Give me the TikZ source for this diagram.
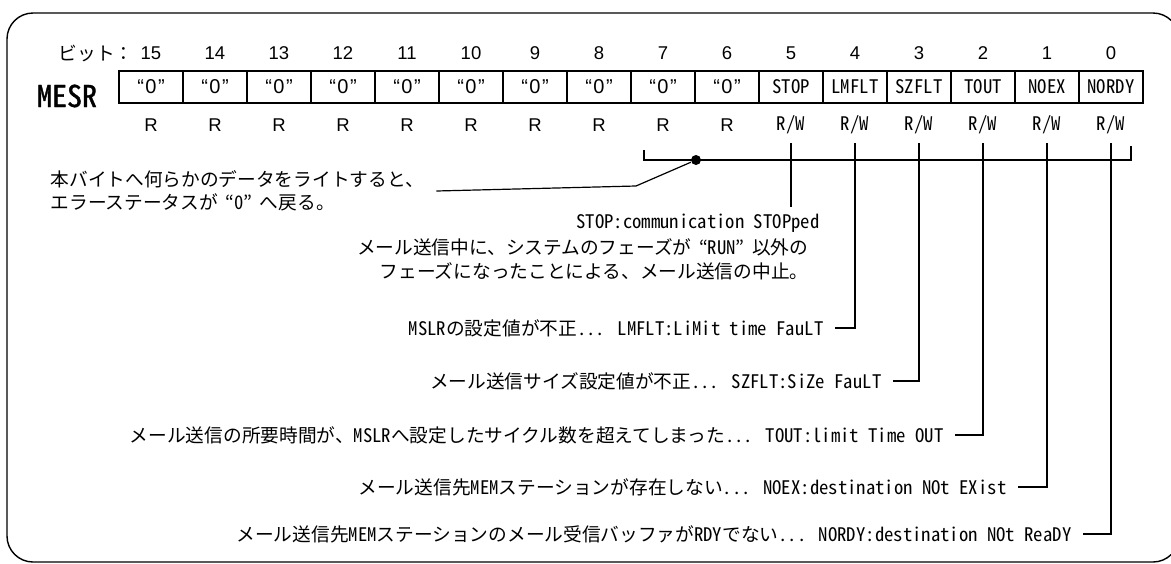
\documentclass[tikz,border=0pt]{standalone}
\usepackage{fontspec}
\setmainfont{Noto Sans CJK JP}
\newfontfamily\hw{Noto Sans CJK JP}[RawFeature=+hwid]
\newfontfamily\hwb{Noto Sans CJK JP}[RawFeature=+hwid, FakeBold=1.2]
\newfontfamily\arl{Liberation Sans}
\newcommand\hwt[1]{{\hw #1}}
\newcommand\jlq{\hspace{0.4em}“}
\newcommand\jrq{”\hspace{0.4em}}
\begin{document}
\begin{tikzpicture}[x=1pt,y=-1pt,line width=1.2pt,
  jp/.style={font=\fontsize{18.7}{23}\selectfont, inner sep=0pt},
  num/.style={font=\arl\fontsize{18.5}{20}\selectfont, inner sep=0pt},
  cell/.style={draw, line width=1.2pt, minimum width=64pt, minimum height=32pt, inner sep=0pt, font=\hw\fontsize{18.7}{20}\selectfont},
  zcell/.style={cell, font=\arl\fontsize{20}{20}\selectfont},
  lab/.style={jp, anchor=east, inner xsep=11pt},
  lead/.style={line width=1.2pt},
  frame/.style={line width=1.4pt, rounded corners=26pt}]
\useasboundingbox (0,0) rectangle (1171,563);
\draw[frame] (7,13) rectangle (1179,562);
% header
\node[jp, anchor=east] (bitlbl) at (134,53) {ビット：};
\node[font=\hwb\fontsize{30}{30}\selectfont, inner sep=0pt] (mesr) at (67,96) {MESR};
\foreach \i in {0,...,15} {
  \pgfmathtruncatemacro\b{15-\i}
  \node[num] (n\b) at ({151+64*\i},53) {\b};
  \coordinate (t\b) at ({151+64*\i},143);
}
\foreach \i in {0,...,9} {
  \pgfmathtruncatemacro\b{15-\i}
  \node[zcell] (c\b) at ({151+64*\i},87) {“\kern1.5pt0\kern1.5pt”};
  \node[num] (r\b) at ({151+64*\i},125) {R};
}
\foreach \i/\t in {10/STOP,11/LMFLT,12/SZFLT,13/TOUT,14/NOEX,15/NORDY} {
  \pgfmathtruncatemacro\b{15-\i}
  \node[cell] (c\b) at ({151+64*\i},87) {\t};
  \node[jp, font=\hw\fontsize{18.7}{20}\selectfont] (r\b) at ({151+64*\i},125) {R/W};
}
% bracket for low byte
\node[circle, fill, inner sep=0pt, minimum size=10pt] (dot) at (696,160) {};
\coordinate (bl) at (644,150);
\coordinate (br) at (1131,146);
\draw[lead] (bl) -- (bl |- dot) -- (br |- dot) -- (br);
% note
\node[jp, anchor=west, align=left, inner xsep=12pt] (note) at (38,191)
  {本バイトへ何らかのデータをライトすると、\\エラーステータスが\jlq\hwt{0}\jrq へ戻る。};
\coordinate (k1) at (636,186);
\draw[lead] (dot) -- (k1) -- (note.east);
% STOP
\coordinate (e5) at (791,207);
\draw[lead] (t5) -- (e5);
\node[jp, anchor=east] (s1) at (820,223) {\hwt{STOP:communication STOPped}};
\node[jp, anchor=east] (s2) at (809,247) {メール送信中に、システムのフェーズが\jlq\hwt{RUN}\jrq 以外の};
\node[jp, anchor=east] (s3) at (809,271) {フェーズになったことによる、メール送信の中止。};
% other labels
\node[lab] (lm) at (835,328) {\hwt{MSLR}の設定値が不正\hwt{... LMFLT:LiMit time FauLT}};
\node[lab] (sz) at (893,381) {メール送信サイズ設定値が不正\hwt{... SZFLT:SiZe FauLT}};
\node[lab] (to) at (955,435) {メール送信の所要時間が、\hwt{MSLR}へ設定したサイクル数を超えてしまった\hwt{... TOUT:limit Time OUT}};
\node[lab] (ne) at (1018,487) {メール送信先\hwt{MEM}ステーションが存在しない\hwt{... NOEX:destination NOt EXist}};
\node[lab] (nr) at (1083,534) {メール送信先\hwt{MEM}ステーションのメール受信バッファが\hwt{RDY}でない\hwt{... NORDY:destination NOt ReaDY}};
\draw[lead] (lm.east) -| (t4);
\draw[lead] (sz.east) -| (t3);
\draw[lead] (to.east) -| (t2);
\draw[lead] (ne.east) -| (t1);
\draw[lead] (nr.east) -| (t0);
\end{tikzpicture}
\end{document}
